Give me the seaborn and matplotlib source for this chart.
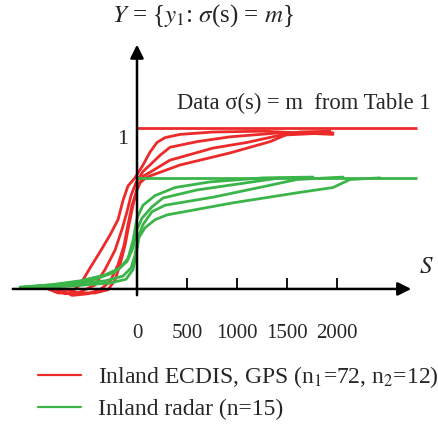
import numpy as np
import pandas as pd
import matplotlib
matplotlib.use('Agg')
import matplotlib.pyplot as plt
import seaborn as sns

# curvas (S, Y) - grupo ECDIS/GPS
r1_s = [-890, -790, -670, -570, -470, -370, -270, -190, -140, -90, -20, 60, 130, 200, 280, 430, 760, 1260, 1960]
r1_y = [0.0, -0.025, -0.025, 0.025, 0.13, 0.23, 0.335, 0.43, 0.55, 0.64, 0.69, 0.77, 0.85, 0.91, 0.94, 0.96, 0.975, 0.98, 0.96]
r2_s = [-820, -720, -570, -420, -320, -220, -150, -100, -60, -10, 60, 130, 230, 330, 600, 930, 1430, 1960]
r2_y = [0.0, -0.03, -0.02, 0.025, 0.12, 0.24, 0.37, 0.48, 0.58, 0.66, 0.73, 0.77, 0.83, 0.88, 0.915, 0.945, 0.97, 0.97]
r3_s = [-770, -650, -490, -370, -270, -190, -130, -90, -50, 0, 60, 130, 330, 760, 1100, 1430, 1930]
r3_y = [0.0, -0.04, -0.03, -0.005, 0.045, 0.15, 0.27, 0.4, 0.52, 0.615, 0.7, 0.725, 0.8, 0.875, 0.91, 0.955, 0.97]
r4_s = [-720, -590, -420, -290, -220, -170, -120, -80, -40, 10, 100, 430, 930, 1330, 1500, 1630, 1930]
r4_y = [0.0, -0.025, -0.025, -0.005, 0.055, 0.15, 0.27, 0.4, 0.52, 0.65, 0.695, 0.77, 0.845, 0.915, 0.96, 0.975, 0.98]

# grupo radar
g1_s = [-1170, -870, -570, -320, -170, -90, -40, 0, 60, 180, 380, 730, 1260, 1760]
g1_y = [0.012, 0.025, 0.05, 0.087, 0.13, 0.19, 0.3, 0.44, 0.52, 0.58, 0.63, 0.665, 0.69, 0.695]
g2_s = [-1120, -770, -420, -220, -100, -40, 0, 50, 150, 260, 600, 1100, 1430]
g2_y = [0.012, 0.03, 0.06, 0.105, 0.17, 0.255, 0.37, 0.44, 0.51, 0.565, 0.615, 0.66, 0.69]
g3_s = [-1070, -670, -320, -140, -60, -20, 10, 60, 150, 280, 760, 1260, 1600, 2060]
g3_y = [0.012, 0.03, 0.05, 0.08, 0.13, 0.21, 0.32, 0.4, 0.48, 0.52, 0.57, 0.635, 0.68, 0.695]
g4_s = [-1020, -620, -270, -110, -40, -10, 20, 80, 180, 300, 960, 1630, 1960, 2130, 2430]
g4_y = [0.006, 0.02, 0.037, 0.06, 0.12, 0.21, 0.32, 0.38, 0.43, 0.46, 0.535, 0.6, 0.63, 0.68, 0.69]

nivel_gps = 1.0
nivel_radar = 0.69
s_fim = 2800

rotulo_gps = 'Inland ECDIS, GPS (n$_1$=72, n$_2$=12)'
rotulo_radar = 'Inland radar (n=15)'
ticks_s = [0, 500, 1000, 1500, 2000]

curvas = [(r1_s, r1_y, rotulo_gps), (r2_s, r2_y, rotulo_gps),
          (r3_s, r3_y, rotulo_gps), (r4_s, r4_y, rotulo_gps),
          (g1_s, g1_y, rotulo_radar), (g2_s, g2_y, rotulo_radar),
          (g3_s, g3_y, rotulo_radar), (g4_s, g4_y, rotulo_radar)]

linhas = []
for i, (s, y, grupo) in enumerate(curvas):
    for k in range(len(s)):
        linhas.append({'S': s[k], 'Y': y[k], 'curva': i, 'grupo': grupo, 'ordem': k})
df = pd.DataFrame(linhas)

sns.set_theme(style='white')
plt.rcParams['font.family'] = ['Liberation Serif', 'DejaVu Serif']
plt.rcParams['mathtext.fontset'] = 'stix'

vermelho = '#ec2a2a'
verde = '#3bb54a'
paleta = {rotulo_gps: vermelho, rotulo_radar: verde}

fig = plt.figure(figsize=(4.39, 4.24), dpi=100)
ax = fig.add_axes([0, 0, 1, 1])

sns.lineplot(data=df, x='S', y='Y', hue='grupo', units='curva', estimator=None,
             sort=False, palette=paleta, lw=2.0, ax=ax, legend=False)

ax.hlines(nivel_gps, 0, s_fim, color=vermelho, lw=2.0)
ax.hlines(nivel_radar, 0, s_fim, color=verde, lw=2.0)

ax.set_xlim(-1370, 3020)
ax.set_ylim(-0.839, 1.795)

# eixos com setas
for sp in ['top', 'right', 'left']:
    ax.spines[sp].set_visible(False)
ax.spines['bottom'].set_position(('data', 0))
ax.spines['bottom'].set_color('none')
ax.annotate('', xy=(2770, 0), xytext=(-1270, 0),
            arrowprops=dict(arrowstyle='-|>', lw=1.8, color='black', mutation_scale=20))
ax.annotate('', xy=(0, 1.535), xytext=(0, -0.056),
            arrowprops=dict(arrowstyle='-|>', lw=1.8, color='black', mutation_scale=20))

ax.set_xticks(ticks_s)
ax.set_xticklabels([str(t) for t in ticks_s], fontsize=15)
ax.tick_params(axis='x', direction='in', length=8, width=1.3, color='black', pad=25, bottom=True)
ax.get_xticklines()[0].set_visible(False)
ax.set_yticks([])
ax.set_xlabel('')
ax.set_ylabel('')

ax.text(-140, 0.93, '1', fontsize=16, ha='center', va='center')
ax.text(2890, 0.137, '$S$', fontsize=18, ha='center', va='center')
ax.text(400, 1.155, 'Data σ(s) = m  from Table 1', fontsize=16.3, ha='left', va='center')
ax.text(660, 1.70, r'$Y$ = {$y_1$: $\sigma$(s) = $m$}', fontsize=18, ha='center', va='center')

handles = [plt.Line2D([], [], color=vermelho, lw=1.6),
           plt.Line2D([], [], color=verde, lw=1.6)]
fig.legend(handles, [rotulo_gps, rotulo_radar], loc='center left',
           bbox_to_anchor=(0.0866, 0.0755), frameon=False, fontsize=17,
           borderaxespad=0, borderpad=0,
           handlelength=1.8, handletextpad=0.72, labelspacing=0.36)

fig.savefig('out.png', dpi=100)
